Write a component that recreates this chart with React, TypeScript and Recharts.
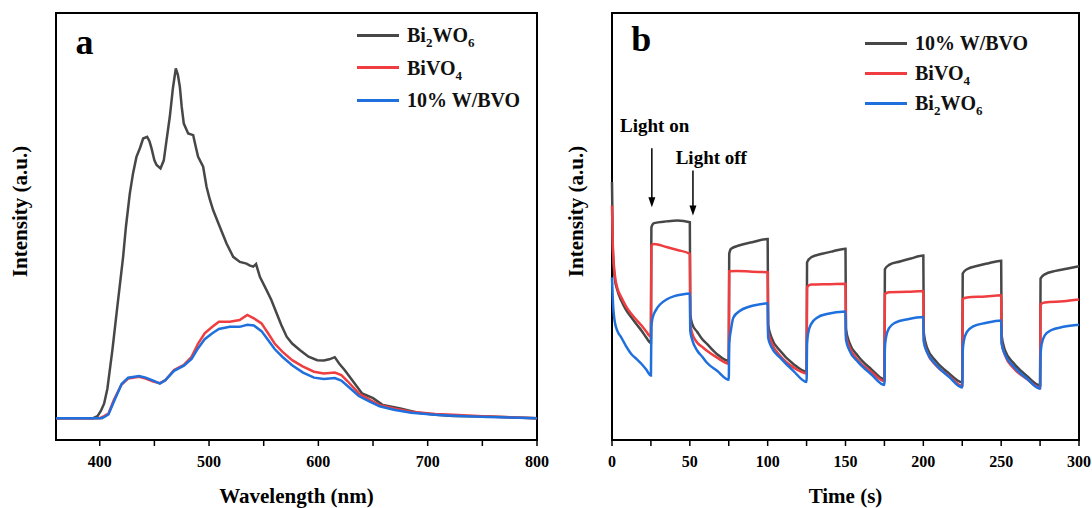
import React from 'react';
import {
  LineChart,
  Line,
  XAxis,
  YAxis,
  ReferenceArea,
  ReferenceLine,
  ReferenceDot,
  Legend,
} from 'recharts';

const FONT = '"Liberation Serif", "Times New Roman", serif';
const GRAY = '#474747';
const RED = '#ef3d40';
const BLUE = '#1f6fdd';

// ---------- Panel a: PL spectra ----------
const wavelengthTicks = [400, 450, 500, 550, 600, 650, 700, 750, 800];

const plBi2WO6 = [
  { nm: 360, pl: 5.1 }, { nm: 380, pl: 5.1 }, { nm: 394, pl: 5.1 }, { nm: 398, pl: 5.6 },
  { nm: 401, pl: 6.8 }, { nm: 404, pl: 8.5 }, { nm: 407, pl: 12 }, { nm: 411.6, pl: 21.1 },
  { nm: 416, pl: 31 }, { nm: 421.4, pl: 42.9 }, { nm: 424, pl: 50 }, { nm: 427.5, pl: 57.7 },
  { nm: 430.5, pl: 62.5 }, { nm: 433.6, pl: 66.3 }, { nm: 437, pl: 68.5 }, { nm: 439.7, pl: 70.6 },
  { nm: 443.4, pl: 71.0 }, { nm: 445.5, pl: 70.0 }, { nm: 447.4, pl: 68.3 }, { nm: 450, pl: 65.5 },
  { nm: 452, pl: 64.4 }, { nm: 455.6, pl: 63.6 }, { nm: 458.6, pl: 65.5 }, { nm: 461, pl: 70 },
  { nm: 464.1, pl: 75.7 }, { nm: 467, pl: 82.5 }, { nm: 469.6, pl: 87.0 }, { nm: 471.5, pl: 85.5 },
  { nm: 473.3, pl: 82.7 }, { nm: 475, pl: 78 }, { nm: 476.9, pl: 74.1 }, { nm: 480.9, pl: 71.8 },
  { nm: 485.5, pl: 71.4 }, { nm: 488, pl: 68.5 }, { nm: 490, pl: 66.3 }, { nm: 494.6, pl: 64.0 },
  { nm: 497.7, pl: 59.3 }, { nm: 500.5, pl: 56.5 }, { nm: 503.8, pl: 53.8 }, { nm: 509.9, pl: 49.9 },
  { nm: 516, pl: 46.0 }, { nm: 522.1, pl: 42.9 }, { nm: 528.2, pl: 41.7 }, { nm: 534.3, pl: 41.3 },
  { nm: 537, pl: 40.9 }, { nm: 540.4, pl: 40.6 }, { nm: 543, pl: 41.2 }, { nm: 546.5, pl: 38.2 },
  { nm: 552.6, pl: 35.1 }, { nm: 557, pl: 32.8 }, { nm: 561.8, pl: 29.7 }, { nm: 566, pl: 27 },
  { nm: 571, pl: 24.2 }, { nm: 576, pl: 22.6 }, { nm: 583, pl: 21.1 }, { nm: 591, pl: 19.5 },
  { nm: 599, pl: 18.7 }, { nm: 605, pl: 18.6 }, { nm: 610, pl: 18.9 }, { nm: 615, pl: 19.4 },
  { nm: 619, pl: 17.9 }, { nm: 624, pl: 16.4 }, { nm: 631, pl: 14.0 }, { nm: 640, pl: 10.9 },
  { nm: 650, pl: 9.8 }, { nm: 659, pl: 8.2 }, { nm: 675, pl: 7.4 }, { nm: 691, pl: 6.4 },
  { nm: 707, pl: 5.9 }, { nm: 723, pl: 5.6 }, { nm: 755, pl: 5.5 }, { nm: 800, pl: 5.1 },
];

const plBiVO4 = [
  { nm: 360, pl: 5.1 }, { nm: 380, pl: 5.1 }, { nm: 400, pl: 5.1 }, { nm: 404, pl: 5.6 },
  { nm: 408, pl: 6.2 }, { nm: 413, pl: 9.4 }, { nm: 420, pl: 13.0 }, { nm: 426, pl: 14.4 },
  { nm: 436, pl: 14.8 }, { nm: 442, pl: 14.4 }, { nm: 449, pl: 13.7 }, { nm: 455, pl: 13.3 },
  { nm: 460, pl: 14.0 }, { nm: 468, pl: 16.4 }, { nm: 477, pl: 17.6 }, { nm: 484, pl: 19.5 },
  { nm: 490, pl: 22.6 }, { nm: 496, pl: 25.0 }, { nm: 503, pl: 26.5 }, { nm: 509, pl: 27.7 },
  { nm: 519, pl: 27.7 }, { nm: 528, pl: 28.1 }, { nm: 535, pl: 29.3 }, { nm: 541, pl: 28.5 },
  { nm: 548, pl: 27.3 }, { nm: 554, pl: 25.0 }, { nm: 560, pl: 22.6 }, { nm: 567, pl: 20.7 },
  { nm: 576, pl: 18.7 }, { nm: 586, pl: 17.2 }, { nm: 596, pl: 16.0 }, { nm: 605, pl: 15.6 },
  { nm: 615, pl: 15.8 }, { nm: 621, pl: 15.2 }, { nm: 627, pl: 13.7 }, { nm: 637, pl: 10.9 },
  { nm: 647, pl: 9.4 }, { nm: 656, pl: 8.2 }, { nm: 669, pl: 7.4 }, { nm: 685, pl: 6.6 },
  { nm: 707, pl: 6.1 }, { nm: 723, pl: 5.9 }, { nm: 755, pl: 5.5 }, { nm: 800, pl: 5.1 },
];

const plWBVO = [
  { nm: 360, pl: 5.1 }, { nm: 380, pl: 5.1 }, { nm: 402, pl: 5.1 }, { nm: 405, pl: 5.5 },
  { nm: 408, pl: 6.0 }, { nm: 413, pl: 9.0 }, { nm: 420, pl: 13.1 }, { nm: 426, pl: 14.6 },
  { nm: 436, pl: 15.0 }, { nm: 442, pl: 14.6 }, { nm: 449, pl: 13.9 }, { nm: 455, pl: 13.2 },
  { nm: 460, pl: 14.0 }, { nm: 468, pl: 16.2 }, { nm: 477, pl: 17.4 }, { nm: 484, pl: 19.0 },
  { nm: 490, pl: 21.5 }, { nm: 496, pl: 23.6 }, { nm: 503, pl: 25.0 }, { nm: 509, pl: 26.0 },
  { nm: 519, pl: 26.5 }, { nm: 528, pl: 26.5 }, { nm: 535, pl: 27.0 }, { nm: 541, pl: 26.8 },
  { nm: 548, pl: 25.5 }, { nm: 554, pl: 23.4 }, { nm: 560, pl: 21.3 }, { nm: 567, pl: 19.5 },
  { nm: 576, pl: 17.5 }, { nm: 586, pl: 15.8 }, { nm: 596, pl: 14.6 }, { nm: 605, pl: 14.3 },
  { nm: 615, pl: 14.5 }, { nm: 621, pl: 13.9 }, { nm: 627, pl: 12.6 }, { nm: 637, pl: 10.3 },
  { nm: 647, pl: 9.0 }, { nm: 656, pl: 7.9 }, { nm: 669, pl: 7.1 }, { nm: 685, pl: 6.4 },
  { nm: 707, pl: 5.9 }, { nm: 723, pl: 5.7 }, { nm: 755, pl: 5.4 }, { nm: 800, pl: 5.1 },
];

// ---------- Panel b: transient photocurrent ----------
const timeTicks = [0, 25, 50, 75, 100, 125, 150, 175, 200, 225, 250, 275, 300];

const tpWBVO = [
  { t: 0, i: 60.4 }, { t: 0.5, i: 45 }, { t: 1.7, i: 38.1 }, { t: 3.5, i: 35 }, { t: 6, i: 32.6 },
  { t: 9, i: 30.5 }, { t: 12.5, i: 28.7 }, { t: 16, i: 27 }, { t: 19, i: 25.6 }, { t: 22, i: 24 },
  { t: 25, i: 22.7 },
  { t: 25.3, i: 49.8 }, { t: 27, i: 50.8 }, { t: 35, i: 51.2 }, { t: 42, i: 51.4 }, { t: 50, i: 51.0 },
  { t: 50.3, i: 29.5 }, { t: 51.5, i: 27.2 }, { t: 54.8, i: 25.3 }, { t: 58, i: 23.6 }, { t: 61, i: 22.5 },
  { t: 67.5, i: 20.1 }, { t: 75, i: 18.5 },
  { t: 75.3, i: 43.6 }, { t: 76.5, i: 44.8 }, { t: 82, i: 45.6 }, { t: 90, i: 46.3 }, { t: 100, i: 47.1 },
  { t: 100.3, i: 27 }, { t: 102.5, i: 24 }, { t: 108, i: 20.9 }, { t: 116.5, i: 17.8 }, { t: 125, i: 16.0 },
  { t: 125.3, i: 41.6 }, { t: 128, i: 42.8 }, { t: 135, i: 43.6 }, { t: 142, i: 44.2 }, { t: 150, i: 44.8 },
  { t: 150.3, i: 26 }, { t: 152.5, i: 22.8 }, { t: 158, i: 19.7 }, { t: 166.5, i: 16.6 }, { t: 175, i: 14.2 },
  { t: 175.3, i: 40.0 }, { t: 178, i: 41.0 }, { t: 185, i: 41.8 }, { t: 192, i: 42.5 }, { t: 200, i: 43.2 },
  { t: 200.3, i: 25 }, { t: 202.5, i: 21.5 }, { t: 208, i: 18.5 }, { t: 216.5, i: 15.6 }, { t: 225, i: 13.5 },
  { t: 225.3, i: 39.0 }, { t: 228, i: 40.0 }, { t: 235, i: 40.8 }, { t: 242, i: 41.4 }, { t: 250, i: 42.0 },
  { t: 250.3, i: 24.5 }, { t: 252.5, i: 21 }, { t: 258, i: 18 }, { t: 266.5, i: 15 }, { t: 275, i: 12.8 },
  { t: 275.3, i: 37.8 }, { t: 278, i: 38.8 }, { t: 285, i: 39.6 }, { t: 292, i: 40.1 }, { t: 300, i: 40.7 },
];

const tpBiVO4 = [
  { t: 0, i: 54.9 }, { t: 0.5, i: 46 }, { t: 1.7, i: 39 }, { t: 3.5, i: 35.5 }, { t: 6, i: 33.4 },
  { t: 9, i: 31.3 }, { t: 12.5, i: 29.5 }, { t: 16, i: 28 }, { t: 19, i: 26.8 }, { t: 22, i: 25.4 },
  { t: 25, i: 24.2 },
  { t: 25.3, i: 45.5 }, { t: 27, i: 45.9 }, { t: 35, i: 45.2 }, { t: 42, i: 44.5 }, { t: 50, i: 43.6 },
  { t: 50.3, i: 27 }, { t: 51.5, i: 25 }, { t: 54.8, i: 22.8 }, { t: 58, i: 21.8 }, { t: 61, i: 20.9 },
  { t: 67.5, i: 19.3 }, { t: 75, i: 17.9 },
  { t: 75.3, i: 39.5 }, { t: 80, i: 39.6 }, { t: 90, i: 39.4 }, { t: 100, i: 39.3 },
  { t: 100.3, i: 25.5 }, { t: 102.5, i: 22.8 }, { t: 108, i: 19.7 }, { t: 116.5, i: 17.0 }, { t: 125, i: 15.6 },
  { t: 125.3, i: 35.8 }, { t: 128, i: 36.4 }, { t: 140, i: 36.5 }, { t: 150, i: 36.6 },
  { t: 150.3, i: 24.5 }, { t: 152.5, i: 21.8 }, { t: 158, i: 18.7 }, { t: 166.5, i: 16.0 }, { t: 175, i: 13.8 },
  { t: 175.3, i: 34.2 }, { t: 178, i: 34.6 }, { t: 190, i: 34.7 }, { t: 200, i: 34.9 },
  { t: 200.3, i: 23.5 }, { t: 202.5, i: 20.5 }, { t: 208, i: 17.5 }, { t: 216.5, i: 15.0 }, { t: 225, i: 12.7 },
  { t: 225.3, i: 33.0 }, { t: 228, i: 33.4 }, { t: 240, i: 33.6 }, { t: 250, i: 33.9 },
  { t: 250.3, i: 23 }, { t: 252.5, i: 19.8 }, { t: 258, i: 16.8 }, { t: 266.5, i: 14.3 }, { t: 275, i: 12.2 },
  { t: 275.3, i: 31.8 }, { t: 278, i: 32.2 }, { t: 290, i: 32.5 }, { t: 300, i: 32.9 },
];

const tpBi2WO6 = [
  { t: 0, i: 38.1 }, { t: 0.5, i: 33 }, { t: 1.7, i: 27.9 }, { t: 3.5, i: 25.5 }, { t: 6, i: 24.0 },
  { t: 9, i: 22 }, { t: 12.5, i: 20.1 }, { t: 16, i: 18.9 }, { t: 19, i: 17.8 }, { t: 22, i: 16.5 },
  { t: 25, i: 15.1 },
  { t: 25.3, i: 26.6 }, { t: 26, i: 28.5 }, { t: 28, i: 30.3 }, { t: 31, i: 31.8 }, { t: 35, i: 32.9 },
  { t: 40, i: 33.7 }, { t: 45, i: 34.1 }, { t: 50, i: 34.3 },
  { t: 50.3, i: 25.5 }, { t: 51.5, i: 23.5 }, { t: 54.8, i: 20.9 }, { t: 58, i: 19.5 }, { t: 61, i: 18.1 },
  { t: 67.5, i: 16.2 }, { t: 75, i: 14.1 },
  { t: 75.3, i: 22.5 }, { t: 76.5, i: 26 }, { t: 78, i: 28.7 }, { t: 82, i: 30.2 }, { t: 88, i: 31.2 },
  { t: 94, i: 31.7 }, { t: 100, i: 32.0 },
  { t: 100.3, i: 24 }, { t: 102.5, i: 21.7 }, { t: 108, i: 19.3 }, { t: 116.5, i: 16.2 }, { t: 125, i: 13.6 },
  { t: 125.3, i: 22.5 }, { t: 126, i: 25.0 }, { t: 128, i: 27.2 }, { t: 132, i: 28.7 }, { t: 138, i: 29.5 },
  { t: 150, i: 30.1 },
  { t: 150.3, i: 23.5 }, { t: 152.5, i: 21 }, { t: 158, i: 18.3 }, { t: 166.5, i: 15.4 }, { t: 175, i: 12.9 },
  { t: 175.3, i: 21.5 }, { t: 176, i: 24 }, { t: 178, i: 26.2 }, { t: 182, i: 27.5 }, { t: 190, i: 28.3 },
  { t: 200, i: 28.8 },
  { t: 200.3, i: 23 }, { t: 202.5, i: 20.5 }, { t: 208, i: 17.7 }, { t: 216.5, i: 14.8 }, { t: 225, i: 12.3 },
  { t: 225.3, i: 20.8 }, { t: 226, i: 23.2 }, { t: 228, i: 25.3 }, { t: 232, i: 26.6 }, { t: 240, i: 27.4 },
  { t: 250, i: 28.0 },
  { t: 250.3, i: 22.5 }, { t: 252.5, i: 20 }, { t: 258, i: 17.2 }, { t: 266.5, i: 14.4 }, { t: 275, i: 12.0 },
  { t: 275.3, i: 20.0 }, { t: 276, i: 22.4 }, { t: 278, i: 24.5 }, { t: 282, i: 25.7 }, { t: 290, i: 26.5 },
  { t: 300, i: 27.0 },
];

// ---------- helpers ----------
const sub = (s: string) => (
  <span style={{ fontSize: 13, position: 'relative', top: 5 }}>{s}</span>
);
const Bi2WO6 = <span>Bi{sub('2')}WO{sub('6')}</span>;
const BiVO4 = <span>BiVO{sub('4')}</span>;
const WBVO = <span>10% W/BVO</span>;

type LegendItem = { color: string; label: React.ReactNode };
const LegendBox = ({ items, rowH }: { items: LegendItem[]; rowH: number }) => (
  <div style={{ fontFamily: FONT, fontWeight: 'bold', fontSize: 20, color: '#111' }}>
    {items.map((it, k) => (
      <div key={k} style={{ display: 'flex', alignItems: 'center', height: rowH, lineHeight: 1, whiteSpace: 'nowrap' }}>
        <div style={{ width: 42, height: 3, background: it.color, marginRight: 8 }} />
        {it.label}
      </div>
    ))}
  </div>
);

const Arrow = (props: any) => {
  const { x1, y1, x2, y2 } = props;
  const top = Math.min(y1, y2);
  const bot = Math.max(y1, y2);
  const ah = 10;
  const aw = 3.5;
  return (
    <g>
      <line x1={x1} y1={top} x2={x2} y2={bot - ah + 1} stroke="#000" strokeWidth={1.5} />
      <polygon points={`${x2 - aw},${bot - ah} ${x2 + aw},${bot - ah} ${x2},${bot}`} fill="#000" />
    </g>
  );
};

const tickStyle = { fontFamily: FONT, fontWeight: 'bold' as const, fontSize: 16, fill: '#000' };
const titleStyle = { fontFamily: FONT, fontWeight: 'bold', fontSize: 21, fill: '#000' };

export default function App() {
  return (
    <div style={{ position: 'absolute', left: 0, top: 0, width: 1092, height: 508, background: '#fff', fontFamily: FONT }}>
      {/* Panel a */}
      <div style={{ position: 'absolute', left: 0, top: 0 }}>
        <LineChart width={560} height={508} margin={{ top: 13, right: 23, bottom: 0, left: 0 }}>
          <XAxis
            type="number"
            dataKey="nm"
            domain={[360, 800]}
            ticks={wavelengthTicks}
            tickFormatter={(v: number) => (v % 100 === 0 ? String(v) : '')}
            tick={tickStyle}
            tickSize={6}
            tickMargin={10}
            height={68}
            axisLine={{ stroke: '#000', strokeWidth: 2 }}
            tickLine={{ stroke: '#000', strokeWidth: 1.5 }}
            label={{ value: 'Wavelength (nm)', position: 'insideBottom', offset: 5, ...titleStyle }}
          />
          <YAxis
            type="number"
            domain={[0, 100]}
            width={56}
            tick={false}
            tickLine={false}
            axisLine={false}
            label={{ value: 'Intensity (a.u.)', angle: -90, position: { x: 27, y: 198.5 }, textAnchor: 'middle', ...titleStyle }}
          />
          <ReferenceArea x1={360} x2={800} y1={0} y2={100} fill="none" fillOpacity={0} stroke="#000" strokeWidth={2} />
          <Line data={plBi2WO6} dataKey="pl" name="Bi2WO6" type="linear" stroke={GRAY} strokeWidth={2.5} dot={false} isAnimationActive={false} />
          <Line data={plBiVO4} dataKey="pl" name="BiVO4" type="linear" stroke={RED} strokeWidth={2.5} dot={false} isAnimationActive={false} />
          <Line data={plWBVO} dataKey="pl" name="10% W/BVO" type="linear" stroke={BLUE} strokeWidth={2.5} dot={false} isAnimationActive={false} />
          <ReferenceDot x={386} y={93.5} r={0} fill="none" stroke="none"
            label={{ value: 'a', position: 'center', fontFamily: FONT, fontWeight: 'bold', fontSize: 36, fill: '#000' }} />
          <Legend
            layout="horizontal"
            verticalAlign="middle"
            align="center"
            wrapperStyle={{ left: 357, top: 19, width: 'auto' }}
            content={() => (
              <LegendBox rowH={32.5} items={[
                { color: GRAY, label: Bi2WO6 },
                { color: RED, label: BiVO4 },
                { color: BLUE, label: WBVO },
              ]} />
            )}
          />
        </LineChart>
      </div>

      {/* Panel b */}
      <div style={{ position: 'absolute', left: 546, top: 0 }}>
        <LineChart width={546} height={508} margin={{ top: 13, right: 13, bottom: 0, left: 0 }}>
          <XAxis
            type="number"
            dataKey="t"
            domain={[0, 300]}
            ticks={timeTicks}
            tickFormatter={(v: number) => (v % 50 === 0 ? String(v) : '')}
            tick={tickStyle}
            tickSize={6}
            tickMargin={10}
            height={68}
            axisLine={{ stroke: '#000', strokeWidth: 2 }}
            tickLine={{ stroke: '#000', strokeWidth: 1.5 }}
            label={{ value: 'Time (s)', position: 'insideBottom', offset: 5, ...titleStyle }}
          />
          <YAxis
            type="number"
            domain={[0, 100]}
            width={66}
            tick={false}
            tickLine={false}
            axisLine={false}
            label={{ value: 'Intensity (a.u.)', angle: -90, position: { x: 37, y: 198.5 }, textAnchor: 'middle', ...titleStyle }}
          />
          <ReferenceArea x1={0} x2={300} y1={0} y2={100} fill="none" fillOpacity={0} stroke="#000" strokeWidth={2} />
          <Line data={tpWBVO} dataKey="i" name="10% W/BVO" type="monotone" stroke={GRAY} strokeWidth={2.5} dot={false} isAnimationActive={false} />
          <Line data={tpBiVO4} dataKey="i" name="BiVO4" type="monotone" stroke={RED} strokeWidth={2.5} dot={false} isAnimationActive={false} />
          <Line data={tpBi2WO6} dataKey="i" name="Bi2WO6" type="monotone" stroke={BLUE} strokeWidth={2.5} dot={false} isAnimationActive={false} />
          <ReferenceLine segment={[{ x: 25.6, y: 68.3 }, { x: 25.6, y: 54.5 }]} shape={Arrow} />
          <ReferenceLine segment={[{ x: 52, y: 63.1 }, { x: 52, y: 52.6 }]} shape={Arrow} />
          <ReferenceDot x={27.4} y={73.7} r={0} fill="none" stroke="none"
            label={{ value: 'Light on', position: 'center', fontFamily: FONT, fontWeight: 'bold', fontSize: 19, fill: '#000' }} />
          <ReferenceDot x={63.8} y={66.3} r={0} fill="none" stroke="none"
            label={{ value: 'Light off', position: 'center', fontFamily: FONT, fontWeight: 'bold', fontSize: 19, fill: '#000' }} />
          <ReferenceDot x={18.8} y={94} r={0} fill="none" stroke="none"
            label={{ value: 'b', position: 'center', fontFamily: FONT, fontWeight: 'bold', fontSize: 36, fill: '#000' }} />
          <Legend
            layout="horizontal"
            verticalAlign="middle"
            align="center"
            wrapperStyle={{ left: 319, top: 28, width: 'auto' }}
            content={() => (
              <LegendBox rowH={30} items={[
                { color: GRAY, label: WBVO },
                { color: RED, label: BiVO4 },
                { color: BLUE, label: Bi2WO6 },
              ]} />
            )}
          />
        </LineChart>
      </div>
    </div>
  );
}
